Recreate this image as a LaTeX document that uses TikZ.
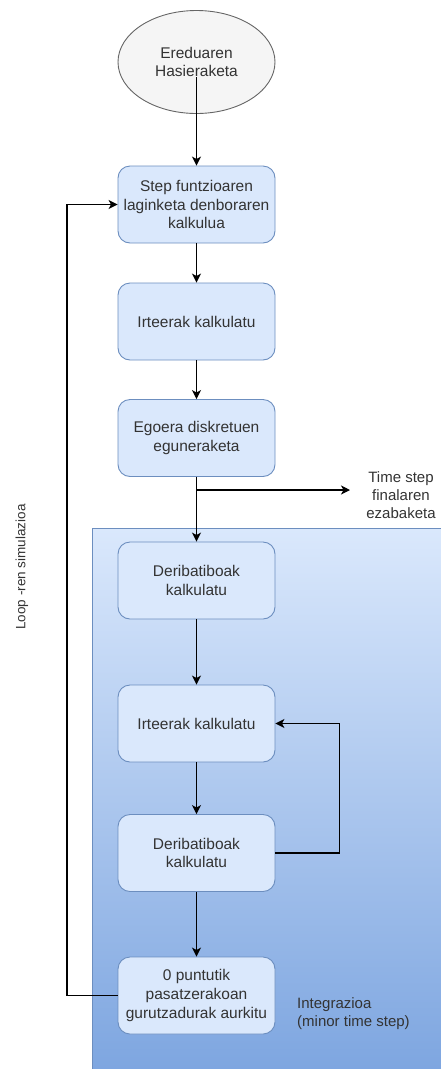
\documentclass[tikz,border=0pt]{standalone}
\usepackage{fontspec}
\setmainfont{Liberation Sans}
\usetikzlibrary{arrows.meta,shapes.geometric}
\definecolor{boxfill}{HTML}{DAE8FC}
\definecolor{boxline}{HTML}{6C8EBF}
\definecolor{gradbot}{HTML}{7EA6E0}
\definecolor{startfill}{HTML}{F5F5F5}
\definecolor{startline}{HTML}{666666}
\definecolor{txt}{HTML}{333333}

\begin{document}
\begin{tikzpicture}[x=1pt,y=-1pt,
  stepbox/.style={draw=boxline, fill=boxfill, rounded corners=12pt,
    minimum width=157pt, minimum height=77pt, align=center, text=txt,
    font=\fontsize{15.5}{18.6}\selectfont, line width=0.9pt, inner sep=2pt},
  startnode/.style={ellipse, draw=startline, fill=startfill, line width=0.9pt,
    minimum width=157pt, minimum height=103pt, align=center, text=txt,
    font=\fontsize{15.5}{18.6}\selectfont, inner sep=0pt},
  plain/.style={align=center, text=txt, font=\fontsize{15}{18}\selectfont, inner sep=0pt},
  flow/.style={-{Stealth[length=9pt,width=9pt,inset=2.5pt]}, line width=1.1pt, black},
  wire/.style={line width=1.1pt, black}]

\useasboundingbox (0,0) rectangle (441,1069);

% integration area
\shade[top color=boxfill, bottom color=gradbot] (92,528) rectangle (441,1069);
\draw[boxline, line width=0.9pt] (441,528) -- (92,528) -- (92,1069);

% nodes
\node[startnode] (start) at (196.5,62) {Ereduaren\\Hasieraketa};
\node[stepbox] (b1) at (196.5,204.5) {Step funtzioaren\\laginketa denboraren\\kalkulua};
\node[stepbox] (b2) at (196.5,321.5) {Irteerak kalkulatu};
\node[stepbox] (b3) at (196.5,438) {Egoera diskretuen\\eguneraketa};
\node[stepbox] (b4) at (196.5,580.5) {Deribatiboak\\kalkulatu};
\node[stepbox] (b5) at (196.5,723.5) {Irteerak kalkulatu};
\node[stepbox] (b6) at (196.5,853) {Deribatiboak\\kalkulatu};
\node[stepbox] (b7) at (196.5,995.5) {0 puntutik\\pasatzerakoan\\gurutzadurak aurkitu};

\node[plain] (ts) at (401,495) {Time step\\finalaren\\ezabaketa};
\node[plain, anchor=west, align=left] (integ) at (297,1014) {Integrazioa\\(minor time step)};
\node[plain, rotate=90, font=\fontsize{13.5}{16}\selectfont] (loop) at (22,567) {Loop -ren simulazioa};

% helper coordinates
\coordinate (startout) at (196.5,77);
\coordinate (split) at (196.5,490);
\coordinate (tsend) at (350,490);
\coordinate (loopx) at (67,0);
\coordinate (fbx) at (339.5,0);

% connectors
\draw[flow] (startout) -- (b1.north);
\draw[flow] (b1.south) -- (b2.north);
\draw[flow] (b2.south) -- (b3.north);
\draw[flow] (b3.south) -- (b4.north);
\draw[flow] (split) -- (tsend);
\draw[flow] (b4.south) -- (b5.north);
\draw[flow] (b5.south) -- (b6.north);
\draw[flow] (b6.south) -- (b7.north);
\draw[flow] (b6.east) -- (b6.east -| fbx) |- (b5.east);
\draw[flow] (b7.west) -- (b7.west -| loopx) |- (b1.west);
\end{tikzpicture}
\end{document}
